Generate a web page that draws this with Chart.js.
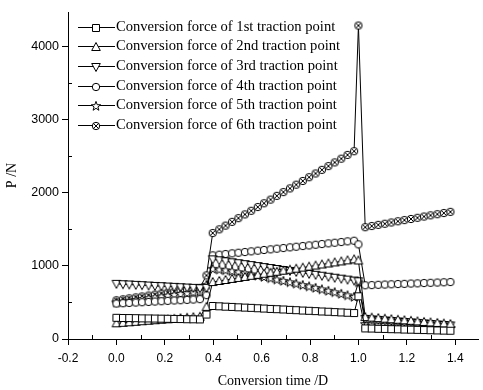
<!DOCTYPE html>
<html>
<head>
<meta charset="utf-8">
<script src="https://cdn.jsdelivr.net/npm/chart.js@4/dist/chart.umd.min.js"></script>
<style>
html,body{margin:0;padding:0;background:#fff;}
#c{display:block;}
</style>
</head>
<body>
<canvas id="c" width="483" height="390"></canvas>
<script>
// ---- data ----
const times = [0,0.027,0.053,0.080,0.106,0.133,0.159,0.186,0.212,0.239,0.265,0.292,0.318,0.345,
  0.372,
  0.398,0.425,0.451,0.478,0.504,0.531,0.557,0.584,0.610,0.637,0.663,0.690,0.717,0.743,0.770,0.796,0.823,0.849,0.876,0.902,0.929,0.955,0.982,
  1.000,
  1.028,1.055,1.082,1.109,1.136,1.163,1.190,1.217,1.244,1.271,1.298,1.326,1.353,1.380];

const force1 = [290,288,287,285,283,282,280,278,277,275,273,271,270,268,
  335,
  452,448,443,439,434,430,426,421,417,412,408,404,399,395,390,386,382,377,373,368,364,360,355,
  585,
  145,143,140,138,135,133,130,128,125,123,120,118,115,113];
const force2 = [215,222,229,236,243,250,257,264,270,277,284,291,298,305,
  440,
  780,794,808,822,836,850,865,879,893,907,921,935,949,963,977,991,1005,1020,1034,1048,1062,1076,1090,
  1075,
  300,293,286,278,271,264,256,249,242,234,227,220,212,205];
const force3 = [755,750,746,741,737,732,727,723,718,714,709,704,700,695,
  700,
  1090,1077,1064,1050,1037,1024,1011,998,984,971,958,945,932,918,905,892,879,866,852,839,826,813,800,
  790,
  275,268,261,254,247,240,233,227,220,213,206,199,192,185];
const force4 = [485,490,494,499,503,508,513,517,522,527,531,536,540,545,
  600,
  1145,1154,1163,1172,1181,1190,1200,1209,1218,1227,1236,1245,1254,1263,1272,1281,1290,1300,1309,1318,1327,1336,1345,
  1295,
  735,738,742,745,749,752,755,759,762,766,769,773,776,780];
const force5 = [500,512,523,535,546,558,569,581,592,604,615,627,638,650,
  740,
  960,950,940,928,915,900,884,867,849,831,813,795,776,757,738,719,699,679,659,639,618,597,576,
  775,
  205,201,197,192,188,184,180,175,171,167,163,158,154,150];
const force6 = [530,543,556,569,582,595,608,622,635,648,661,674,687,700,
  870,
  1450,1501,1552,1603,1654,1705,1755,1806,1857,1908,1959,2010,2061,2112,2163,2214,2265,2315,2366,2417,2468,2519,2570,
  4290,
  1530,1546,1562,1578,1595,1611,1627,1643,1659,1676,1692,1708,1724,1740];

const seriesLabels = [
  "Conversion force of 1st traction point",
  "Conversion force of 2nd traction point",
  "Conversion force of 3rd traction point",
  "Conversion force of 4th traction point",
  "Conversion force of 5th traction point",
  "Conversion force of 6th traction point"
];
const markerKinds = ["square","triangleUp","triangleDown","circle","star","circleX"];

const xMajorTicks = [-0.2,0.0,0.2,0.4,0.6,0.8,1.0,1.2,1.4];
const xMinorTicks = [-0.1,0.1,0.3,0.5,0.7,0.9,1.1,1.3];
const yMajorTicks = [0,1000,2000,3000,4000];
const yMinorTicks = [500,1500,2500,3500];

// ---- marker images ----
function makeMarker(kind){
  const cv = document.createElement('canvas');
  cv.width = 12; cv.height = 12;
  const g = cv.getContext('2d');
  g.fillStyle = '#fff'; g.strokeStyle = '#000'; g.lineWidth = 1;
  g.beginPath();
  if (kind === 'square') {
    g.rect(2.5,2.5,7,7);
  } else if (kind === 'triangleUp') {
    g.moveTo(6,1.5); g.lineTo(10.3,9.5); g.lineTo(1.7,9.5); g.closePath();
  } else if (kind === 'triangleDown') {
    g.moveTo(1.7,2.5); g.lineTo(10.3,2.5); g.lineTo(6,10.5); g.closePath();
  } else if (kind === 'circle' || kind === 'circleX') {
    g.arc(6,6,3.7,0,Math.PI*2);
  } else if (kind === 'star') {
    for (let i=0;i<10;i++){
      const r = (i%2===0) ? 4.9 : 2.0;
      const a = -Math.PI/2 + i*Math.PI/5;
      const px = 6 + r*Math.cos(a), py = 6.3 + r*Math.sin(a);
      if (i===0) g.moveTo(px,py); else g.lineTo(px,py);
    }
    g.closePath();
  }
  g.fill(); g.stroke();
  if (kind === 'circleX') {
    g.beginPath();
    g.moveTo(3.4,3.4); g.lineTo(8.6,8.6);
    g.moveTo(8.6,3.4); g.lineTo(3.4,8.6);
    g.stroke();
  }
  return cv;
}
const markers = markerKinds.map(makeMarker);

const allForces = [force1,force2,force3,force4,force5,force6];
const datasets = allForces.map((arr,i)=>({
  label: seriesLabels[i],
  data: times.map((t,k)=>({x:t,y:arr[k]})),
  borderColor:'#000',
  borderWidth:1,
  backgroundColor:'#fff',
  pointStyle: markers[i],
  pointRadius: 4,
  pointHoverRadius: 4,
  tension:0,
  fill:false
}));

// ---- plugins ----
const minorTicksPlugin = {
  id:'minorTicks',
  afterDraw(chart){
    const ctx = chart.ctx, xs = chart.scales.x, ys = chart.scales.y;
    const a = chart.chartArea;
    ctx.save();
    ctx.strokeStyle = '#000'; ctx.lineWidth = 1;
    ctx.beginPath();
    xMinorTicks.forEach(v=>{
      const px = Math.round(xs.getPixelForValue(v)) + 0.5;
      ctx.moveTo(px, a.bottom); ctx.lineTo(px, a.bottom - 4);
    });
    yMinorTicks.forEach(v=>{
      const py = Math.round(ys.getPixelForValue(v)) + 0.5;
      ctx.moveTo(a.left, py); ctx.lineTo(a.left + 4, py);
    });
    ctx.stroke();
    ctx.restore();
  }
};

const legendPlugin = {
  id:'customLegend',
  afterDraw(chart){
    const ctx = chart.ctx;
    ctx.save();
    ctx.font = '14.6px "Liberation Serif", "Times New Roman", serif';
    ctx.textBaseline = 'middle';
    ctx.fillStyle = '#000';
    seriesLabels.forEach((lab,i)=>{
      const y = 26.5 + i*19.7;
      const yy = Math.round(y) + 0.5;
      ctx.strokeStyle = '#000'; ctx.lineWidth = 1;
      ctx.beginPath(); ctx.moveTo(78, yy); ctx.lineTo(115, yy); ctx.stroke();
      ctx.drawImage(markers[i], 96 - 6, Math.round(y) - 6 + 1);
      ctx.fillText(lab, 116, yy);
    });
    ctx.restore();
  }
};

new Chart(document.getElementById('c'), {
  type:'line',
  data:{datasets},
  options:{
    responsive:false,
    animation:false,
    devicePixelRatio:1,
    layout:{padding:{top:12,right:0,left:0,bottom:0}},
    plugins:{legend:{display:false},tooltip:{enabled:false}},
    elements:{line:{tension:0}},
    scales:{
      x:{
        type:'linear',
        min:-0.2, max:1.494,
        afterBuildTicks(axis){ axis.ticks = xMajorTicks.map(v=>({value:v})); },
        afterFit(s){ s.height = 51; },
        grid:{display:true,drawOnChartArea:false,drawTicks:true,tickLength:6,color:'#000',lineWidth:1},
        border:{display:true,color:'#000',width:1},
        ticks:{
          color:'#000', padding:6, maxRotation:0, autoSkip:false,
          font:{family:'"Liberation Sans", Arial, sans-serif',size:12},
          callback:(v)=>Number(v).toFixed(1)
        },
        title:{display:true,text:'Conversion time /D',color:'#000',
          font:{family:'"Liberation Serif", "Times New Roman", serif',size:14},
          padding:{top:0,bottom:0}}
      },
      y:{
        type:'linear',
        min:0, max:4475,
        afterBuildTicks(axis){ axis.ticks = yMajorTicks.map(v=>({value:v})); },
        afterFit(s){ s.width = 68; },
        grid:{display:true,drawOnChartArea:false,drawTicks:true,tickLength:6,color:'#000',lineWidth:1},
        border:{display:true,color:'#000',width:1},
        ticks:{
          color:'#000', padding:3, autoSkip:false,
          font:{family:'"Liberation Sans", Arial, sans-serif',size:12.5},
          callback:(v)=>String(v)
        },
        title:{display:true,text:'P /N',color:'#000',
          font:{family:'"Liberation Serif", "Times New Roman", serif',size:14},
          padding:{top:4,bottom:4}}
      }
    }
  },
  plugins:[minorTicksPlugin, legendPlugin]
});
</script>
</body>
</html>
